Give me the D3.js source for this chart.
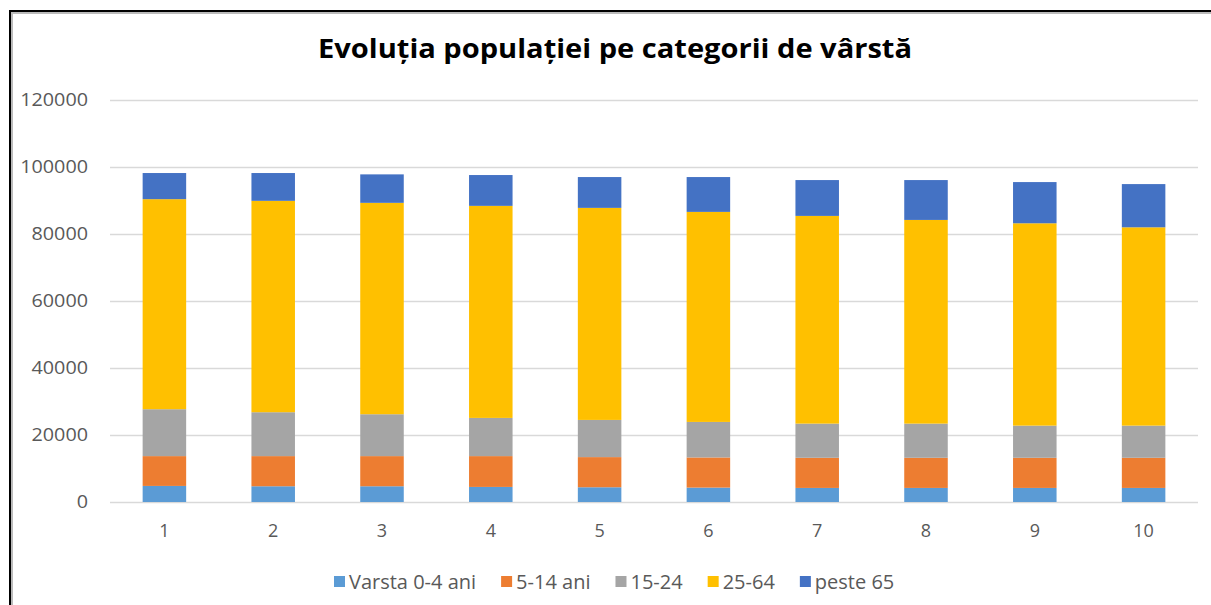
<!DOCTYPE html>
<html>
<head>
<meta charset="utf-8">
<script src="https://cdn.jsdelivr.net/npm/d3@7"></script>
<style>
  body { margin: 0; background: #fff; }
  svg text { font-family: "Open Sans", "Noto Sans", sans-serif; }
</style>
</head>
<body>
<div id="container"></div>
<script>
const W = 1211, H = 605;
const margin = {left: 110, right: 13, top: 100, bottom: 103};

const categories = ['1', '2', '3', '4', '5', '6', '7', '8', '9', '10'];
const seriesNames = ['Varsta 0-4 ani', '5-14 ani', '15-24', '25-64', 'peste 65'];
const colors = ['#5B9BD5', '#ED7D31', '#A5A5A5', '#FFC000', '#4472C4'];
const age0_4   = [4800, 4700, 4700, 4500, 4400, 4300, 4200, 4200, 4200, 4200];
const age5_14  = [8900, 9000, 9000, 9200, 9000, 9000, 9000, 9000, 9000, 9000];
const age15_24 = [14000, 13100, 12500, 11400, 11100, 10600, 10200, 10200, 9600, 9600];
const age25_64 = [62700, 63100, 63100, 63300, 63300, 62700, 62000, 60800, 60400, 59200];
const age65    = [7800, 8300, 8500, 9200, 9200, 10400, 10700, 11900, 12300, 12900];
const yTicks = [0, 20000, 40000, 60000, 80000, 100000, 120000];

const series = [age0_4, age5_14, age15_24, age25_64, age65];
const table = categories.map((c, i) => {
  const row = {cat: c};
  seriesNames.forEach((s, j) => { row[s] = series[j][i]; });
  return row;
});
const stacked = d3.stack().keys(seriesNames)(table);

const svg = d3.select('#container')
  .append('svg')
  .attr('width', W)
  .attr('height', H);

// frame
svg.append('rect')
  .attr('x', 12).attr('y', 13)
  .attr('width', W + 10).attr('height', H + 10)
  .attr('fill', 'none').attr('stroke', '#bbb').attr('stroke-width', 2);
svg.append('rect')
  .attr('x', 10).attr('y', 11)
  .attr('width', W + 10).attr('height', H + 10)
  .attr('fill', 'none').attr('stroke', '#000').attr('stroke-width', 2);

const x = d3.scaleBand()
  .domain(categories)
  .range([margin.left, W - margin.right])
  .paddingInner(0.6)
  .paddingOuter(0.3);

const y = d3.scaleLinear()
  .domain([0, 120000])
  .range([H - margin.bottom, margin.top]);

// gridlines
svg.append('g')
  .selectAll('line')
  .data(yTicks)
  .enter()
  .append('line')
  .attr('x1', margin.left)
  .attr('x2', W - margin.right)
  .attr('y1', d => Math.round(y(d)) + 0.5)
  .attr('y2', d => Math.round(y(d)) + 0.5)
  .attr('stroke', '#d9d9d9')
  .attr('stroke-width', 1.5);

// y axis labels
const yAxis = d3.axisLeft(y).tickValues(yTicks).tickSize(0).tickPadding(0).tickFormat(d3.format('d'));
svg.append('g')
  .attr('transform', 'translate(88,0)')
  .call(yAxis)
  .call(g => g.select('.domain').remove())
  .selectAll('text')
  .attr('fill', '#595959')
  .style('font-size', '18px')
  .attr('textLength', d => String(d).length * 11.3)
  .attr('lengthAdjust', 'spacingAndGlyphs');

// bars
svg.append('g')
  .selectAll('g')
  .data(stacked)
  .enter()
  .append('g')
  .attr('fill', (d, i) => colors[i])
  .selectAll('rect')
  .data(d => d)
  .enter()
  .append('rect')
  .attr('x', d => x(d.data.cat))
  .attr('width', x.bandwidth())
  .attr('y', d => y(d[1]))
  .attr('height', d => y(d[0]) - y(d[1]));

// x axis labels
const xAxis = d3.axisBottom(x).tickSize(0).tickPadding(0);
svg.append('g')
  .attr('transform', 'translate(0,' + (H - margin.bottom + 22) + ')')
  .call(xAxis)
  .call(g => g.select('.domain').remove())
  .selectAll('text')
  .attr('fill', '#595959')
  .style('font-size', '18px');

// title
svg.append('text')
  .attr('x', 615)
  .attr('y', 58)
  .attr('text-anchor', 'middle')
  .style('font-size', '27px')
  .style('font-weight', 'bold')
  .attr('fill', '#000')
  .attr('textLength', 594)
  .attr('lengthAdjust', 'spacingAndGlyphs')
  .text('Evoluția populației pe categorii de vârstă');

// legend
const legend = svg.append('g').attr('transform', 'translate(0,582)');
let lx = 334;
seriesNames.forEach((s, i) => {
  const item = legend.append('g').attr('transform', 'translate(' + lx + ',0)');
  item.append('rect')
    .attr('x', 0).attr('y', -6)
    .attr('width', 11).attr('height', 11)
    .attr('fill', colors[i]);
  const t = item.append('text')
    .attr('x', 15)
    .attr('dy', '0.35em')
    .attr('fill', '#595959')
    .style('font-size', '20px')
    .text(s);
  lx += 15 + t.node().getComputedTextLength() + 25;
});
</script>
</body>
</html>
